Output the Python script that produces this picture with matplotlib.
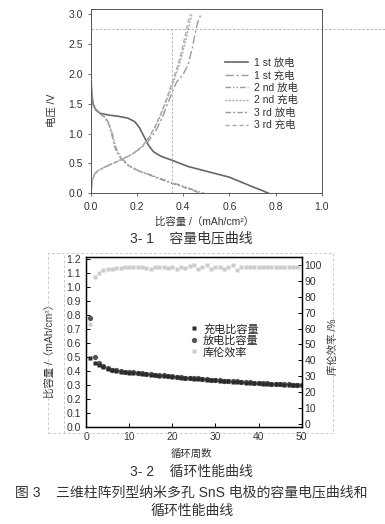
import matplotlib
matplotlib.use('Agg')
import matplotlib.pyplot as plt
from matplotlib.patches import Rectangle
from matplotlib.lines import Line2D

plt.rcParams['font.family'] = ['Liberation Sans', 'Noto Sans CJK SC', 'DejaVu Sans']

# ---- 3-1 容量电压曲线 数据 ----
x_d1 = [0.000, 0.002, 0.005, 0.010, 0.020, 0.040, 0.080, 0.120, 0.160, 0.190, 0.210, 0.230,
        0.250, 0.270, 0.290, 0.310, 0.340, 0.380, 0.420, 0.470, 0.520, 0.560, 0.600, 0.650,
        0.700, 0.740, 0.770]
v_d1 = [1.98, 1.75, 1.60, 1.48, 1.40, 1.34, 1.31, 1.29, 1.26, 1.20, 1.10, 0.95,
        0.80, 0.70, 0.65, 0.61, 0.57, 0.51, 0.45, 0.40, 0.35, 0.31, 0.27, 0.19,
        0.11, 0.05, 0.00]

x_c1 = [0.000, 0.005, 0.015, 0.030, 0.060, 0.100, 0.140, 0.180, 0.220, 0.250, 0.280, 0.310,
        0.340, 0.370, 0.400, 0.420, 0.440, 0.455, 0.465, 0.477]
v_c1 = [0.00, 0.20, 0.32, 0.38, 0.44, 0.51, 0.58, 0.66, 0.77, 0.88, 1.04, 1.28,
        1.58, 1.86, 2.00, 2.15, 2.45, 2.75, 2.90, 3.00]

x_d2 = [0.000, 0.003, 0.010, 0.020, 0.040, 0.060, 0.080, 0.095, 0.110, 0.130, 0.160, 0.200,
        0.250, 0.300, 0.350, 0.400, 0.450, 0.490]
v_d2 = [1.90, 1.70, 1.52, 1.42, 1.34, 1.28, 1.16, 0.96, 0.74, 0.60, 0.48, 0.39,
        0.32, 0.25, 0.18, 0.12, 0.05, 0.00]

x_c2 = [0.000, 0.005, 0.015, 0.030, 0.060, 0.100, 0.140, 0.180, 0.220, 0.250, 0.280, 0.310,
        0.340, 0.360, 0.380, 0.400, 0.420, 0.437]
v_c2 = [0.00, 0.20, 0.32, 0.38, 0.44, 0.51, 0.58, 0.66, 0.78, 0.92, 1.12, 1.38,
        1.68, 1.90, 2.12, 2.40, 2.72, 3.00]

x_d3 = [0.000, 0.003, 0.010, 0.020, 0.040, 0.060, 0.078, 0.092, 0.107, 0.127, 0.155, 0.195,
        0.245, 0.292, 0.340, 0.390, 0.440, 0.475]
v_d3 = [1.88, 1.68, 1.50, 1.41, 1.33, 1.27, 1.15, 0.95, 0.73, 0.60, 0.48, 0.39,
        0.32, 0.25, 0.18, 0.12, 0.05, 0.00]

x_c3 = [0.000, 0.005, 0.015, 0.030, 0.060, 0.100, 0.140, 0.180, 0.220, 0.250, 0.280, 0.310,
        0.338, 0.357, 0.376, 0.395, 0.413, 0.428]
v_c3 = [0.00, 0.20, 0.32, 0.38, 0.44, 0.51, 0.58, 0.66, 0.78, 0.93, 1.14, 1.40,
        1.70, 1.92, 2.14, 2.42, 2.72, 3.00]

curve_labels = ['1 st 放电', '1 st 充电', '2 nd 放电', '2 nd 充电', '3 rd 放电', '3 rd 充电']

# ---- 3-2 循环性能曲线 数据 ----
cycles = list(range(1, 51))
charge_cap = [0.490, 0.460, 0.440, 0.425, 0.415, 0.405, 0.400, 0.396, 0.392, 0.388,
              0.385, 0.382, 0.379, 0.376, 0.373, 0.370, 0.367, 0.364, 0.361, 0.358,
              0.355, 0.352, 0.349, 0.347, 0.344, 0.342, 0.339, 0.337, 0.334, 0.332,
              0.330, 0.327, 0.325, 0.323, 0.321, 0.319, 0.317, 0.315, 0.313, 0.311,
              0.310, 0.308, 0.306, 0.304, 0.303, 0.301, 0.300, 0.298, 0.297, 0.296]
discharge_cap = [0.778, 0.500, 0.455, 0.435, 0.420, 0.410, 0.404, 0.400, 0.396, 0.392,
                 0.389, 0.386, 0.383, 0.380, 0.377, 0.374, 0.371, 0.368, 0.365, 0.362,
                 0.359, 0.356, 0.353, 0.351, 0.348, 0.346, 0.343, 0.341, 0.338, 0.336,
                 0.334, 0.331, 0.329, 0.327, 0.325, 0.323, 0.321, 0.319, 0.317, 0.315,
                 0.314, 0.312, 0.310, 0.308, 0.307, 0.305, 0.304, 0.302, 0.301, 0.300]
coulomb_eff = [63.0, 92.0, 95.0, 96.5, 97.2, 97.6, 98.0, 98.1, 98.3, 98.4,
               98.5, 98.5, 98.6, 98.2, 97.6, 98.5, 98.4, 98.7, 98.0, 98.8,
               97.5, 98.5, 98.0, 99.0, 99.6, 97.2, 98.6, 99.5, 97.6, 98.5,
               98.6, 97.3, 98.6, 100.0, 96.6, 98.4, 98.5, 98.6, 98.6, 98.5,
               98.6, 98.6, 98.6, 98.5, 98.6, 98.6, 98.7, 98.7, 98.7, 98.8]
cyc_labels = ['充电比容量', '放电比容量', '库伦效率']

fig = plt.figure(figsize=(3.85, 5.24), dpi=100)

# ---------------- 上图 ----------------
ax = fig.add_axes([0.2364, 0.6311, 0.5992, 0.3517])
ax.plot(x_d1, v_d1, color='#666666', lw=1.2, ls='-', label=curve_labels[0])
ax.plot(x_c1, v_c1, color='#9a9a9a', lw=1.0, ls=(0, (6, 2, 1.5, 2)), label=curve_labels[1])
ax.plot(x_d2, v_d2, color='#9a9a9a', lw=1.0, ls=(0, (4, 1.5, 1, 1.5, 1, 1.5)), label=curve_labels[2])
ax.plot(x_c2, v_c2, color='#aaaaaa', lw=1.0, ls=(0, (1.5, 1)), label=curve_labels[3])
ax.plot(x_d3, v_d3, color='#9a9a9a', lw=1.0, ls=(0, (4, 1.5, 1.5, 1.5)), label=curve_labels[4])
ax.plot(x_c3, v_c3, color='#aaaaaa', lw=1.0, ls=(0, (3, 2)), label=curve_labels[5])

ax.set_xlim(0, 1.0)
ax.set_ylim(0, 3.09)
ax.set_xticks([0, 0.2, 0.4, 0.6, 0.8, 1.0])
ax.set_yticks([0, 0.5, 1.0, 1.5, 2.0, 2.5, 3.0])
ax.set_xticklabels(['0.0', '0.2', '0.4', '0.6', '0.8', '1.0'])
ax.set_yticklabels(['0.0', '0.5', '1.0', '1.5', '2.0', '2.5', '3.0'])
ax.tick_params(labelsize=7.5, length=2.5, width=0.6, color='#555555', labelcolor='#333333')
for s in ax.spines.values():
    s.set_color('#555555')
    s.set_linewidth(0.7)

# 参考虚线
ax.axhline(2.75, xmin=0, xmax=1.28, color='#aaaaaa', lw=0.6, ls=(0, (3, 2)), clip_on=False)
ax.plot([0.35, 0.35], [0, 2.75], color='#aaaaaa', lw=0.6, ls=(0, (3, 2)))

ax.set_xlabel('比容量 /（mAh/cm²）', fontsize=7.5, color='#333333')
ax.set_ylabel('电压 /V', fontsize=7.5, color='#333333')
ax.xaxis.set_label_coords(0.49, -0.125)
ax.yaxis.set_label_coords(-0.15, 0.45)

ax.legend(loc='upper left', bbox_to_anchor=(0.56, 0.765), frameon=False, fontsize=7.5,
          handlelength=2.2, handletextpad=0.5, labelspacing=0.22, borderpad=0,
          labelcolor='#333333')

fig.text(0.498, 1 - 238 / 524, '3- 1    容量电压曲线', ha='center', va='center',
         fontsize=10, color='#333333')

# ---------------- 下图 ----------------
bx = fig.add_axes([0.2234, 0.1857, 0.5602, 0.3244])
bx.plot(cycles, discharge_cap, 'o', color='#555555', ms=3.8, mec='none', label=cyc_labels[1], zorder=3)
bx.plot(cycles, charge_cap, 's', color='#2a2a2a', ms=3.4, mec='none', label=cyc_labels[0], zorder=4)
bx.set_xlim(0, 50)
bx.set_ylim(0, 1.22)
bx.set_xticks([0, 10, 20, 30, 40, 50])
bx.set_yticks([i / 10 for i in range(13)])
bx.set_yticklabels(['%.1f' % (i / 10) for i in range(13)])
bx.tick_params(direction='in', labelsize=7.5, length=3, width=0.7, labelcolor='#333333')
for s in bx.spines.values():
    s.set_linewidth(1.0)

bx2 = bx.twinx()
bx2.plot(cycles, coulomb_eff, 's', color='#cccccc', ms=3.4, mec='none', label=cyc_labels[2])
bx2.set_ylim(-1.5, 105)
bx2.set_yticks(range(0, 101, 10))
bx2.tick_params(direction='in', labelsize=7.5, length=3, width=0.7, labelcolor='#333333', pad=2)

bx.set_xlabel('循环周数', fontsize=7.5, color='#333333')
bx.xaxis.set_label_coords(0.49, -0.13)
bx.set_ylabel('比容量 /（mAh/cm²）', fontsize=7.5, color='#333333')
bx.yaxis.set_label_coords(-0.145, 0.46)
bx2.set_ylabel('库伦效率 /%', fontsize=7.5, color='#333333', rotation=90)
bx2.yaxis.set_label_coords(1.12, 0.47)

handles = [Line2D([], [], ls='none', marker='s', color='#2a2a2a', ms=3.4, mec='none'),
           Line2D([], [], ls='none', marker='o', color='#555555', ms=3.8, mec='none'),
           Line2D([], [], ls='none', marker='s', color='#cccccc', ms=3.4, mec='none')]
bx.legend(handles, cyc_labels, loc='upper left', bbox_to_anchor=(0.455, 0.64), frameon=False,
          fontsize=8, handlelength=0.8, handletextpad=0.4, labelspacing=0.1, borderpad=0,
          labelcolor='#222222')

# 外围虚线框
fig.patches.append(Rectangle((0.1247, 0.1737), 0.7403, 0.3435, transform=fig.transFigure,
                             fill=False, ec='#cccccc', lw=0.7, ls=(0, (3, 2))))
fig.lines.append(Line2D([0.166, 0.166], [0.1737, 0.5172], transform=fig.transFigure,
                        color='#cccccc', lw=0.7, ls=(0, (3, 2))))

fig.text(0.498, 1 - 472 / 524, '3- 2    循环性能曲线', ha='center', va='center',
         fontsize=10, color='#333333')
fig.text(0.498, 1 - 492 / 524, '图 3    三维柱阵列型纳米多孔 SnS 电极的容量电压曲线和',
         ha='center', va='center', fontsize=10, color='#333333')
fig.text(0.498, 1 - 511 / 524, '循环性能曲线', ha='center', va='center',
         fontsize=10, color='#333333')

fig.savefig('out.png', dpi=100)
